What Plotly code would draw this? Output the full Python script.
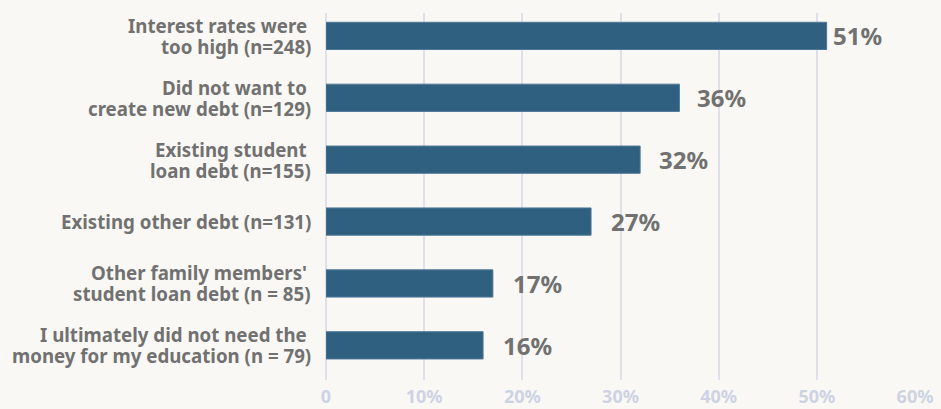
import plotly.graph_objects as go

# Reasons for not borrowing, share of respondents
categories = [
    "Interest rates were<br>too high (n=248)",
    "Did not want to<br>create new debt (n=129)",
    "Existing student<br>loan debt (n=155)",
    "Existing other debt (n=131)",
    "Other family members'<br>student loan debt (n = 85)",
    "I ultimately did not need the<br>money for my education (n = 79)",
]
shares = [51, 36, 32, 27, 17, 16]
share_labels = ["51%", "36%", "32%", "27%", "17%", "16%"]

tick_values = [0, 10, 20, 30, 40, 50, 60]
tick_labels = ["0", "10%", "20%", "30%", "40%", "50%", "60%"]

BG = "#FAF8F4"
BAR = "#30607F"
GRID = "#DFE0EA"
LABEL_GREY = "#717171"
TICK_GREY = "#CDD3E3"
FONT = "Noto Sans"
LINE_STEP = 21  # px between wrapped category-label lines

label_gaps = [4, 16, 17, 18, 18, 18]

fig = go.Figure(
    go.Bar(
        x=shares,
        y=categories,
        orientation="h",
        width=0.44,
        marker=dict(color=BAR, line=dict(color="#4E7897", width=1)),
        hoverinfo="skip",
    )
)

# Value labels to the right of each bar
for cat, val, txt, gap in zip(categories, shares, share_labels, label_gaps):
    fig.add_annotation(
        x=val,
        y=cat,
        text=f"<b>{txt}</b>",
        showarrow=False,
        xanchor="left",
        yanchor="middle",
        xshift=gap,
        font=dict(family=FONT, size=24, color=LABEL_GREY),
    )

# Category labels, one annotation per line for tight line spacing
for cat in categories:
    lines = cat.split("<br>")
    n = len(lines)
    for i, line in enumerate(lines):
        offset = ((n - 1) / 2 - i) * LINE_STEP
        fig.add_annotation(
            x=0,
            y=cat,
            text=f"<b>{line}</b>",
            showarrow=False,
            xanchor="right",
            yanchor="middle",
            xshift=-13 if i == n - 1 else -17,
            yshift=offset,
            font=dict(family=FONT, size=18.7, color=LABEL_GREY),
        )

fig.update_layout(
    width=941,
    height=409,
    paper_bgcolor=BG,
    plot_bgcolor=BG,
    margin=dict(l=326, r=26, t=13, b=29, autoexpand=False),
    showlegend=False,
    font=dict(family=FONT),
)

fig.update_xaxes(
    range=[0, 60],
    tickvals=tick_values,
    ticktext=[f"<b>{t}</b>" for t in tick_labels],
    tickfont=dict(family=FONT, size=18, color=TICK_GREY),
    showgrid=True,
    gridcolor=GRID,
    gridwidth=1.5,
    zeroline=True,
    zerolinecolor=GRID,
    zerolinewidth=1.5,
    showline=False,
    ticks="",
    ticklabelstandoff=4,
    automargin=False,
    fixedrange=True,
)

fig.update_yaxes(
    type="category",
    categoryorder="array",
    categoryarray=categories,
    range=[5.56, -0.37],
    showticklabels=False,
    showgrid=False,
    showline=False,
    ticks="",
    automargin=False,
    fixedrange=True,
)

fig.write_html("out.html")
